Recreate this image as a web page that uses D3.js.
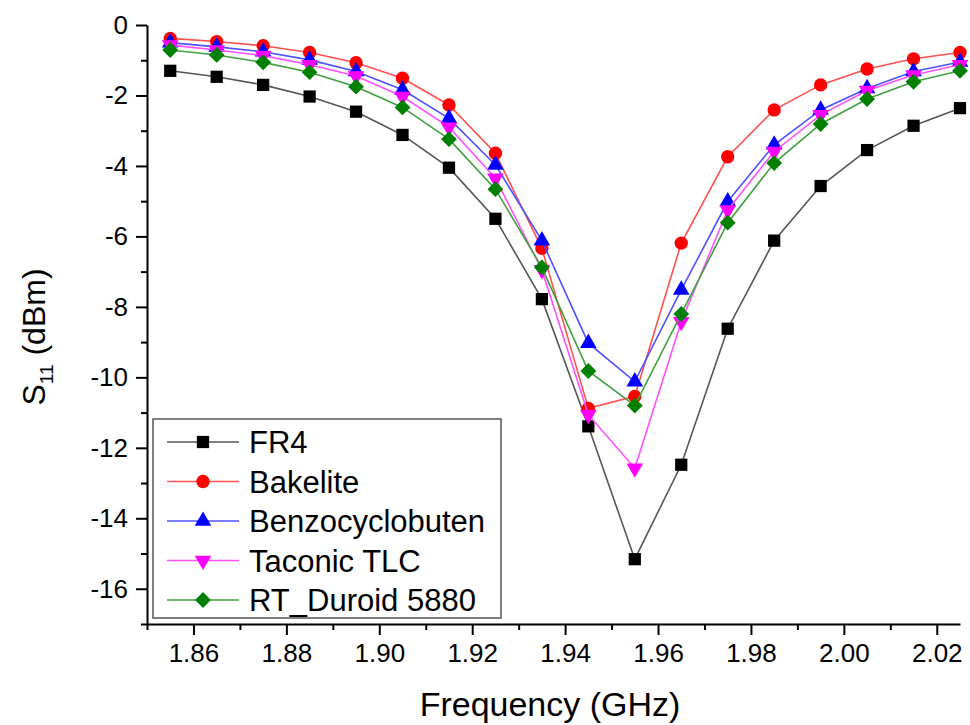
<!DOCTYPE html>
<html lang="en">
<head>
    <meta charset="UTF-8">
    <title>S11 vs Frequency</title>
    <script src="https://d3js.org/d3.v7.min.js"></script>
    <style>
        body, html { margin: 0; padding: 0; background: #fff; }
        svg { display: block; font-family: "Liberation Sans", Arial, sans-serif; }
        .axis path, .axis line { stroke: #000; stroke-width: 2px; }
        .axis text { font-size: 26px; fill: #000; font-family: "Liberation Sans", Arial, sans-serif; }
        .series-line { fill: none; stroke-width: 1.6px; }
        .legend text { font-size: 31px; fill: #000; }
    </style>
</head>
<body>
    <div id="chart"></div>

    <script>
    // frequencies (GHz)
    const freq = [1.855, 1.865, 1.875, 1.885, 1.895, 1.905, 1.915, 1.925, 1.935,
                  1.945, 1.955, 1.965, 1.975, 1.985, 1.995, 2.005, 2.015, 2.025];

    const fr4 = [-1.30, -1.47, -1.70, -2.03, -2.46, -3.12, -4.05, -5.50, -7.78,
                 -11.39, -15.16, -12.48, -8.62, -6.12, -4.57, -3.55, -2.86, -2.36];
    const bakelite = [-0.38, -0.47, -0.59, -0.78, -1.07, -1.51, -2.27, -3.64, -6.34,
                      -10.88, -10.54, -6.19, -3.74, -2.41, -1.70, -1.25, -0.96, -0.78];
    const benzo = [-0.50, -0.62, -0.76, -0.99, -1.32, -1.84, -2.65, -3.97, -6.12,
                   -9.03, -10.12, -7.52, -5.01, -3.40, -2.41, -1.80, -1.32, -1.05];
    const taconic = [-0.57, -0.71, -0.87, -1.13, -1.45, -2.03, -2.90, -4.35, -6.95,
                     -11.06, -12.58, -8.42, -5.25, -3.59, -2.55, -1.86, -1.42, -1.13];
    const duroid = [-0.71, -0.85, -1.06, -1.34, -1.75, -2.34, -3.24, -4.66, -6.88,
                    -9.82, -10.80, -8.20, -5.61, -3.92, -2.81, -2.10, -1.61, -1.30];

    const seriesNames = ["FR4", "Bakelite", "Benzocyclobuten", "Taconic TLC", "RT_Duroid 5880"];
    const seriesValues = [fr4, bakelite, benzo, taconic, duroid];

    const xMajor = [1.86, 1.88, 1.90, 1.92, 1.94, 1.96, 1.98, 2.00, 2.02];
    const xMinor = [1.85, 1.87, 1.89, 1.91, 1.93, 1.95, 1.97, 1.99, 2.01];
    const yMajor = [0, -2, -4, -6, -8, -10, -12, -14, -16];
    const yMinor = [-1, -3, -5, -7, -9, -11, -13, -15, -17];

    const styles = [
        { line: "#555555", fill: "#000000", shape: d3.symbolSquare, size: 150, rot: 0 },
        { line: "#ff5050", fill: "#ff0000", shape: d3.symbolCircle, size: 140, rot: 0 },
        { line: "#5050ff", fill: "#0000ff", shape: d3.symbolTriangle, size: 120, rot: 0 },
        { line: "#ff50ff", fill: "#ff00ff", shape: d3.symbolTriangle, size: 120, rot: 180 },
        { line: "#40a040", fill: "#008000", shape: d3.symbolSquare, size: 125, rot: 45 }
    ];

    const width = 970, height = 725;
    const mLeft = 147, mRight = 960, mTop = 25, mBottom = 624;

    const svg = d3.select("#chart").append("svg")
        .attr("width", width)
        .attr("height", height);

    const x = d3.scaleLinear().domain([1.85, 2.025]).range([mLeft, mRight]);
    const y = d3.scaleLinear().domain([-17, 0]).range([mBottom, mTop]);

    // minor ticks
    svg.append("g").attr("class", "axis")
        .attr("transform", `translate(0,${mBottom})`)
        .call(d3.axisBottom(x).tickValues(xMinor).tickSize(6).tickFormat(""))
        .select(".domain").remove();
    svg.append("g").attr("class", "axis")
        .attr("transform", `translate(${mLeft},0)`)
        .call(d3.axisLeft(y).tickValues(yMinor).tickSize(6).tickFormat(""))
        .select(".domain").remove();

    // major axes
    svg.append("g").attr("class", "axis")
        .attr("transform", `translate(0,${mBottom})`)
        .call(d3.axisBottom(x).tickValues(xMajor).tickSize(11).tickSizeOuter(0)
            .tickPadding(9).tickFormat(d3.format(".2f")));
    svg.append("g").attr("class", "axis")
        .attr("transform", `translate(${mLeft},0)`)
        .call(d3.axisLeft(y).tickValues(yMajor).tickSize(11).tickSizeOuter(0)
            .tickPadding(8).tickFormat(d => d3.format("d")(d).replace("−", "-")));

    // series
    const line = d3.line().x((d, i) => x(freq[i])).y(d => y(d));

    seriesValues.forEach((vals, k) => {
        const st = styles[k];
        const g = svg.append("g");
        g.append("path")
            .attr("class", "series-line")
            .attr("stroke", st.line)
            .attr("d", line(vals));
        g.selectAll("path.mark")
            .data(vals)
            .enter().append("path")
            .attr("class", "mark")
            .attr("d", d3.symbol().type(st.shape).size(st.size))
            .attr("fill", st.fill)
            .attr("transform", (d, i) => `translate(${x(freq[i])},${y(d)}) rotate(${st.rot})`);
    });

    // legend
    const legend = svg.append("g").attr("class", "legend");
    legend.append("rect")
        .attr("x", 153).attr("y", 419)
        .attr("width", 348).attr("height", 199)
        .attr("fill", "#fff")
        .attr("stroke", "#555")
        .attr("stroke-width", 1.5);

    seriesNames.forEach((name, k) => {
        const st = styles[k];
        const cy = 442 + k * 39.5;
        legend.append("line")
            .attr("x1", 167).attr("x2", 239)
            .attr("y1", cy).attr("y2", cy)
            .attr("stroke", st.line)
            .attr("stroke-width", 1.6);
        legend.append("path")
            .attr("d", d3.symbol().type(st.shape).size(st.size))
            .attr("fill", st.fill)
            .attr("transform", `translate(203,${cy}) rotate(${st.rot})`);
        legend.append("text")
            .attr("x", 249).attr("y", cy)
            .attr("dy", "0.36em")
            .text(name);
    });

    // axis titles
    svg.append("text")
        .attr("x", 550).attr("y", 716)
        .attr("text-anchor", "middle")
        .style("font-size", "34px")
        .text("Frequency (GHz)");

    const yt = svg.append("text")
        .attr("transform", "translate(45,337) rotate(-90)")
        .attr("text-anchor", "middle")
        .style("font-size", "32px");
    yt.append("tspan").text("S");
    yt.append("tspan").attr("dy", 8).style("font-size", "19px").text("11");
    yt.append("tspan").attr("dy", -8).text(" (dBm)");
    </script>
</body>
</html>
